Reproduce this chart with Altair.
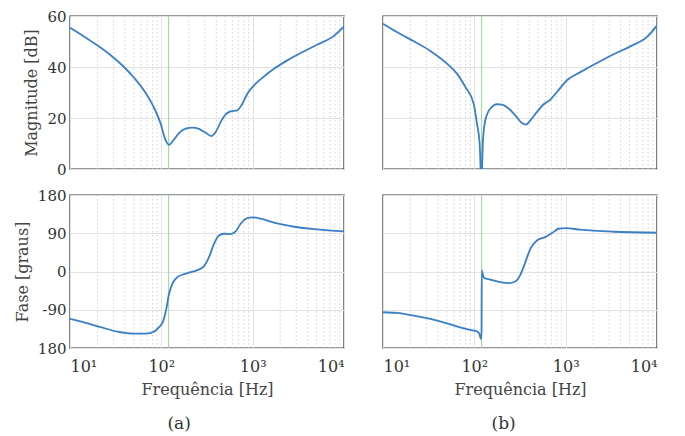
import altair as alt
import pandas as pd

# ---- data ----
fa_mag = [10, 14.2, 19.9, 27.9, 39.0, 50.2, 64.6, 83.1, 98.3, 109.7, 121.3, 135.3, 156.1, 184.7,
          218.5, 258.5, 305.9, 352.7, 393.5, 446.2, 506.2, 574.3, 679.3, 770.8, 874.3, 1034,
          1331, 1712, 2396, 3354, 5105, 7773, 10000]
a_mag = [55.4, 52.0, 48.5, 44.6, 40.0, 35.8, 30.8, 24.1, 17.8, 11.9, 9.5, 11.2, 14.1, 15.8,
         16.2, 15.7, 14.2, 12.9, 14.5, 18.4, 21.4, 22.6, 23.0, 25.6, 29.5, 32.8,
         36.3, 39.3, 42.6, 45.5, 48.8, 52.2, 55.9]

fa_ph = [10, 14.2, 21.7, 33.0, 50.2, 67.4, 83.1, 94.3, 105.2, 113.4, 120.3, 131.9, 149.7,
         177.1, 209.5, 247.9, 293.3, 332.6, 377.3, 428.0, 485.4, 574.3, 651.5, 739.0, 874.3,
         1000, 1223, 1712, 2836, 5105, 10000]
a_ph = [-111.6, -119.5, -131.0, -141.5, -146.2, -146.2, -141.5, -131.0, -115.5, -88.0, -56.6,
        -29.0, -13.4, -6.3, -1.6, 3.1, 12.6, 33.8, 65.2, 84.9, 88.8, 88.0, 94.3, 112.4, 125.8,
        127.3, 124.2, 114.8, 105.3, 99.0, 94.3]

fb_mag = [10, 14.2, 21.7, 33.0, 50.2, 64.6, 79.7, 98.3, 106.9, 114.4, 119.3, 124.4, 131.9,
          149.7, 177.1, 200.9, 237.7, 281.2, 332.6, 367.9, 410.4, 485.4, 574.3, 679.3, 803.7,
          1034, 1447, 2203, 3354, 5105, 7773, 10000]
b_mag = [57.0, 53.7, 50.1, 46.3, 41.3, 37.4, 32.2, 25.6, 17.8, 9.9, -5.0, 11.2, 19.1,
         23.7, 25.4, 25.2, 23.7, 21.0, 18.0, 17.4, 19.1, 22.4, 25.4, 27.2, 30.2,
         34.8, 38.0, 41.6, 45.0, 48.1, 51.8, 56.3]

fb_ph = [10, 14.2, 21.7, 33.0, 50.2, 70.3, 90.4, 106.9, 113.4, 118.3, 119.8, 120.6, 123.4,
         128.7, 149.7, 192.6, 237.7, 281.2, 318.9, 361.7, 410.4, 485.4, 598.9, 708.7, 838.2,
         1000, 1447, 3354, 10000]
b_ph = [-95.9, -97.5, -103.8, -111.6, -121.8, -131.3, -137.6, -140.7, -147.0, -158.8, -143.0,
        2.4, -5.5, -15.7, -18.9, -25.2, -27.5, -23.6, -7.9, 22.0, 53.4, 73.1, 81.0, 90.4, 100.6,
        102.2, 98.3, 93.5, 91.2]

minor_f = [m * d for d in (10, 100, 1000) for m in range(2, 10)]
mark_f = [120]

FONT = "DejaVu Serif"
BLUE = "#3a7fc8"
GREEN = "#a9d8a9"

xscale = alt.Scale(type="log", domain=[10, 10000], nice=False)
sup_expr = ("'10' + (datum.value == 10 ? '\u00b9' : datum.value == 100 ? '\u00b2' : "
            "datum.value == 1000 ? '\u00b3' : '\u2074')")


def panel(freq, vals, kind, left, bottom):
    if kind == "mag":
        yscale = alt.Scale(domain=[0, 60], nice=False)
        yvals = [0, 20, 40, 60]
        ytitle = "Magnitude [dB]"
        lexpr = "'' + datum.value"
    else:
        yscale = alt.Scale(domain=[-180, 180], nice=False)
        yvals = [-180, -90, 0, 90, 180]
        ytitle = "Fase [graus]"
        lexpr = "datum.value == -180 ? '180' : '' + datum.value"

    xaxis = alt.Axis(values=[10, 100, 1000, 10000], grid=True, ticks=False,
                     labels=bottom, labelExpr=sup_expr, labelPadding=10,
                     labelFontSize=16,
                     title="Frequência [Hz]" if bottom else None, domain=False,
                     titlePadding=7)
    yaxis = alt.Axis(values=yvals, grid=True, ticks=False, labels=True,
                     labelOpacity=1 if left else 0,
                     labelExpr=lexpr, labelPadding=4, domain=False,
                     title=ytitle if left else None, titlePadding=7)

    df = pd.DataFrame({"f": freq, "v": vals})
    minor = alt.Chart(pd.DataFrame({"f": minor_f})).mark_rule(
        color="#c8c8c8", strokeDash=[1.5, 2.5], strokeWidth=0.8
    ).encode(x=alt.X("f:Q", scale=xscale, axis=xaxis))
    green = alt.Chart(pd.DataFrame({"f": mark_f})).mark_rule(
        color=GREEN, strokeWidth=1.2
    ).encode(x=alt.X("f:Q", scale=xscale))
    line = alt.Chart(df).mark_line(color=BLUE, strokeWidth=1.8, clip=True,
                                   interpolate="monotone").encode(
        x=alt.X("f:Q", scale=xscale),
        y=alt.Y("v:Q", scale=yscale, axis=yaxis),
    )
    return alt.layer(minor, green, line).properties(width=274, height=153)


def column(fm, m, fp, p, left, label):
    return alt.vconcat(
        panel(fm, m, "mag", left, False),
        panel(fp, p, "ph", left, True),
        spacing=9,
        title=alt.TitleParams(label, orient="bottom", anchor="middle", fontSize=17,
                              font=FONT, fontWeight="normal", color="#333", offset=18),
    )


chart = alt.hconcat(
    column(fa_mag, a_mag, fa_ph, a_ph, True, "(a)"),
    column(fb_mag, b_mag, fb_ph, b_ph, False, "(b)"),
    spacing=4,
).properties(
    padding={"left": 5, "top": 0, "right": 5, "bottom": 5}
).configure_view(
    stroke="#333333", strokeWidth=1.4
).configure_axis(
    labelFont=FONT, labelFontSize=15, labelColor="#333",
    titleFont=FONT, titleFontSize=16, titleFontWeight="normal", titleColor="#444",
    gridColor="#e2e2e2", gridWidth=1,
)

chart.save("out.html", embed_options={"renderer": "svg", "actions": False})
